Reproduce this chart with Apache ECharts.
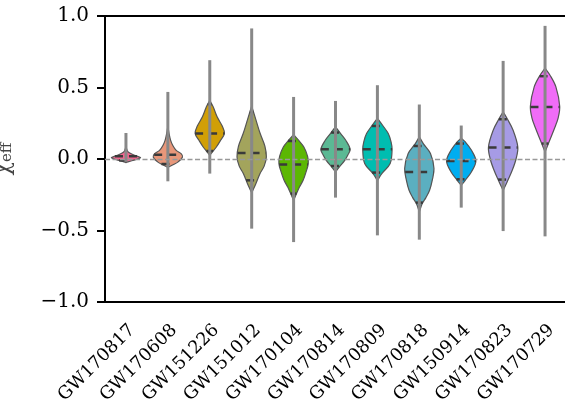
<!DOCTYPE html>
<html>
<head>
<meta charset="utf-8">
<script src="https://cdn.jsdelivr.net/npm/echarts@6/dist/echarts.min.js"></script>
<style>
  html, body { margin: 0; padding: 0; background: #fff; }
  #main { width: 565px; height: 403px; }
</style>
</head>
<body>
<div id="main"></div>
<script>
var chartDom = document.getElementById('main');
var myChart = echarts.init(chartDom);

// events, left to right
const categories = ['GW170817', 'GW170608', 'GW151226', 'GW151012', 'GW170104', 'GW170814',
  'GW170809', 'GW170818', 'GW150914', 'GW170823', 'GW170729'];
// full range of the samples (grey line)
const rangeMin = [-0.02, -0.156, -0.102, -0.487, -0.581, -0.270, -0.534, -0.564, -0.340, -0.504, -0.541];
const rangeMax = [0.182, 0.469, 0.691, 0.913, 0.434, 0.406, 0.516, 0.381, 0.234, 0.686, 0.931];
// dashed lines: 5%, median, 95%
const p05 = [-0.01, -0.035, 0.056, -0.149, -0.242, -0.049, -0.095, -0.305, -0.142, -0.144, 0.108];
const p50 = [0.02, 0.03, 0.178, 0.042, -0.039, 0.068, 0.068, -0.091, -0.014, 0.08, 0.364];
const p95 = [0.06, 0.22, 0.383, 0.329, 0.126, 0.185, 0.231, 0.091, 0.108, 0.278, 0.579];
// violin outline: [chi_eff, relative half width], top to bottom
const shapes = [
  [[0.09, 0], [0.06, 0.08], [0.045, 0.2], [0.03, 0.5], [0.018, 0.8], [0.01, 1.0], [0.0, 0.8], [-0.012, 0.4], [-0.025, 0]],
  [[0.23, 0], [0.18, 0.08], [0.13, 0.19], [0.096, 0.33], [0.06, 0.57], [0.038, 0.9], [0.014, 1.0], [-0.02, 0.7], [-0.04, 0.35], [-0.058, 0]],
  [[0.41, 0], [0.365, 0.23], [0.295, 0.5], [0.23, 0.85], [0.178, 1.0], [0.131, 0.74], [0.084, 0.45], [0.05, 0.18], [0.025, 0]],
  [[0.37, 0], [0.27, 0.3], [0.178, 0.58], [0.09, 0.9], [0.014, 1.0], [-0.05, 0.85], [-0.102, 0.57], [-0.184, 0.24], [-0.235, 0]],
  [[0.17, 0], [0.13, 0.35], [0.084, 0.7], [0.02, 0.95], [-0.032, 1.0], [-0.09, 0.85], [-0.149, 0.65], [-0.196, 0.4], [-0.242, 0.2], [-0.29, 0]],
  [[0.225, 0], [0.178, 0.35], [0.131, 0.7], [0.068, 1.0], [0.03, 0.85], [-0.009, 0.63], [-0.058, 0.24], [-0.09, 0]],
  [[0.285, 0], [0.236, 0.35], [0.178, 0.74], [0.12, 0.93], [0.068, 1.0], [-0.032, 0.87], [-0.102, 0.3], [-0.15, 0]],
  [[0.155, 0], [0.108, 0.27], [0.038, 0.76], [-0.067, 1.0], [-0.15, 0.88], [-0.219, 0.7], [-0.27, 0.45], [-0.312, 0.2], [-0.37, 0]],
  [[0.145, 0], [0.119, 0.28], [0.061, 0.7], [-0.014, 1.0], [-0.091, 0.69], [-0.149, 0.27], [-0.185, 0]],
  [[0.33, 0], [0.283, 0.27], [0.201, 0.68], [0.084, 1.0], [0.0, 0.88], [-0.079, 0.62], [-0.161, 0.27], [-0.22, 0]],
  [[0.635, 0], [0.586, 0.34], [0.504, 0.74], [0.369, 1.0], [0.29, 0.9], [0.224, 0.68], [0.119, 0.27], [0.05, 0]]
];
const colors = ['#f5658f', '#e8977a', '#d19f06', '#a3a45c', '#5cb703', '#5bb994',
  '#00bdb0', '#5bafc0', '#00adf0', '#a69be5', '#f06cf7'];

const serif = 'DejaVu Serif';

// half width of the outline at a given value
function widthAt(shape, v) {
  for (var k = 0; k < shape.length - 1; k++) {
    var a = shape[k], b = shape[k + 1];
    if (v <= a[0] && v >= b[0]) {
      var t = (a[0] - v) / (a[0] - b[0]);
      return a[1] + t * (b[1] - a[1]);
    }
  }
  return 0;
}

function renderViolin(params, api) {
  var i = api.value(0);
  var shape = shapes[i];
  var cx = api.coord([i, 0])[0];
  var maxHalf = api.size([1, 0])[0] * 0.35;
  var right = [], left = [];
  shape.forEach(function (p) {
    var y = api.coord([i, p[0]])[1];
    right.push([cx + p[1] * maxHalf, y]);
    left.unshift([cx - p[1] * maxHalf, y]);
  });
  var children = [{
    type: 'polygon',
    shape: { points: right.concat(left), smooth: 0.35 },
    style: { fill: colors[i], stroke: '#555', lineWidth: 1.2 }
  }];
  [p05[i], p50[i], p95[i]].forEach(function (v) {
    var w = widthAt(shape, v) * maxHalf;
    var y = api.coord([i, v])[1];
    children.push({
      type: 'line',
      shape: { x1: cx - w, y1: y, x2: cx + w, y2: y },
      style: { stroke: '#3a3a3a', lineWidth: 2.5, lineDash: [8, 6] }
    });
  });
  children.push({
    type: 'line',
    shape: { x1: cx, y1: api.coord([i, rangeMax[i]])[1], x2: cx, y2: api.coord([i, rangeMin[i]])[1] },
    style: { stroke: '#888', lineWidth: 3 }
  });
  return { type: 'group', children: children };
}

var option = {
  animation: false,
  grid: {
    left: 105, right: -1, top: 16, bottom: 101,
    outerBoundsMode: 'none',
    containLabel: false,
    show: true, borderColor: '#000', borderWidth: 2
  },
  xAxis: {
    type: 'category',
    data: categories,
    boundaryGap: true,
    axisLine: { onZero: false, lineStyle: { color: '#000', width: 2 } },
    axisTick: { alignWithLabel: true, length: 8, lineStyle: { color: '#000', width: 2 } },
    axisLabel: {
      rotate: 45, margin: 19, verticalAlign: 'top',
      color: '#000', fontFamily: serif, fontSize: 17.8
    },
    splitLine: { show: false }
  },
  yAxis: {
    type: 'value',
    min: -1, max: 1, interval: 0.5,
    name: '{a|χ}{b|eff}',
    nameLocation: 'middle',
    nameGap: 90,
    nameRotate: 90,
    nameTextStyle: {
      color: '#444',
      rich: {
        a: { fontFamily: serif, fontSize: 22, color: '#444' },
        b: { fontFamily: serif, fontSize: 15, color: '#444', verticalAlign: 'bottom', padding: [8, 0, 0, 0] }
      }
    },
    axisLine: { show: true, lineStyle: { color: '#000', width: 2 } },
    axisTick: { show: true, length: 8, lineStyle: { color: '#000', width: 2 } },
    axisLabel: {
      margin: 16, color: '#000', fontFamily: serif, fontSize: 20,
      formatter: function (v) { return (v < 0 ? '\u2212' : '') + Math.abs(v).toFixed(1); }
    },
    splitLine: { show: false }
  },
  series: [
    {
      type: 'custom',
      renderItem: renderViolin,
      encode: { x: 0, y: [1, 2] },
      data: categories.map(function (c, i) { return [i, rangeMin[i], rangeMax[i]]; }),
      z: 2
    },
    {
      type: 'line',
      data: [],
      z: 5,
      markLine: {
        silent: true,
        symbol: ['none', 'none'],
        label: { show: false },
        lineStyle: { color: '#999', width: 1.3, type: [5, 2.5] },
        data: [{ yAxis: 0 }]
      }
    }
  ]
};

option && myChart.setOption(option);
</script>
</body>
</html>
